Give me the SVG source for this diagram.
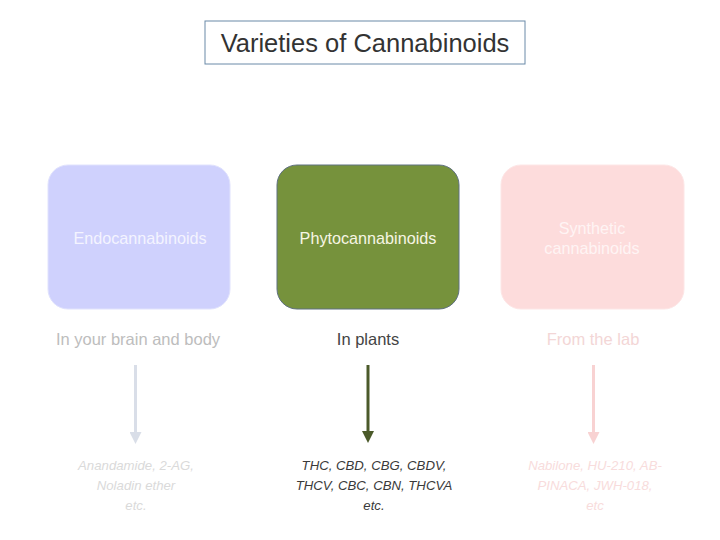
<svg xmlns="http://www.w3.org/2000/svg" width="720" height="540" viewBox="0 0 720 540">
<defs>
<style>
text{font-family:"Liberation Sans","DejaVu Sans",sans-serif;text-anchor:middle}
.title{font-size:25.5px;fill:#333}
.box{font-size:16.2px}
.lbl{font-size:16.5px}
.ex{font-size:13.2px;font-style:italic}
</style>
<marker id="ah1" viewBox="0 0 10 10" refX="5" refY="5" markerWidth="4" markerHeight="4" orient="auto"><path d="M0,0 L10,5 L0,10 Z" fill="#d9dee8"/></marker>
<marker id="ah2" viewBox="0 0 10 10" refX="5" refY="5" markerWidth="4" markerHeight="4" orient="auto"><path d="M0,0 L10,5 L0,10 Z" fill="#4b5a2a"/></marker>
<marker id="ah3" viewBox="0 0 10 10" refX="5" refY="5" markerWidth="4" markerHeight="4" orient="auto"><path d="M0,0 L10,5 L0,10 Z" fill="#f8d2d2"/></marker>
</defs>
<rect width="720" height="540" fill="#ffffff"/>
<g id="title">
<rect x="205" y="21" width="320" height="43" fill="#ffffff" stroke="#6a8aa8" stroke-width="1"/>
<text class="title" x="365" y="51.5">Varieties of Cannabinoids</text>
</g>
<g id="endo">
<rect x="48" y="165" width="182" height="144" rx="20" fill="#cfd1fd" stroke="#e0e2fd" stroke-width="1"/>
<text class="box" x="140" y="244" fill="#f4f4ff">Endocannabinoids</text>
</g>
<g id="phyto">
<rect x="277" y="165" width="182" height="144" rx="20" fill="#76923c" stroke="#5f7080" stroke-width="1"/>
<text class="box" x="368" y="244" fill="#f6f6e4">Phytocannabinoids</text>
</g>
<g id="synth">
<rect x="501" y="165" width="183" height="144" rx="20" fill="#fddcdc" stroke="#fde6e6" stroke-width="1"/>
<text class="box" x="592" y="234" fill="#fff4f4">Synthetic</text>
<text class="box" x="592" y="254" fill="#fff4f4">cannabinoids</text>
</g>
<g id="lbl-endo"><text class="lbl" x="138" y="345" fill="#bdbdbd">In your brain and body</text></g>
<g id="lbl-phyto"><text class="lbl" x="368" y="345" fill="#444444">In plants</text></g>
<g id="lbl-synth"><text class="lbl" x="593" y="345" fill="#f3d6d6">From the lab</text></g>
<g id="ex-endo" fill="#dadada">
<text class="ex" x="136" y="470">Anandamide, 2-AG,</text>
<text class="ex" x="136" y="490">Noladin ether</text>
<text class="ex" x="136" y="510">etc.</text>
</g>
<g id="ex-phyto" fill="#3a3a3a">
<text class="ex" x="374" y="470">THC, CBD, CBG, CBDV,</text>
<text class="ex" x="374" y="490">THCV, CBC, CBN, THCVA</text>
<text class="ex" x="374" y="510">etc.</text>
</g>
<g id="ex-synth" fill="#f8dcdc">
<text class="ex" x="595" y="470">Nabilone, HU-210, AB-</text>
<text class="ex" x="595" y="490">PINACA, JWH-018,</text>
<text class="ex" x="595" y="510">etc</text>
</g>
<g id="connectors" fill="none" stroke-width="3">
<line x1="135.5" y1="365" x2="135.5" y2="438" stroke="#d9dee8" marker-end="url(#ah1)"/>
<line x1="368" y1="365" x2="368" y2="437" stroke="#4b5a2a" marker-end="url(#ah2)"/>
<line x1="593.5" y1="365" x2="593.5" y2="438" stroke="#f8d2d2" marker-end="url(#ah3)"/>
</g>
</svg>
